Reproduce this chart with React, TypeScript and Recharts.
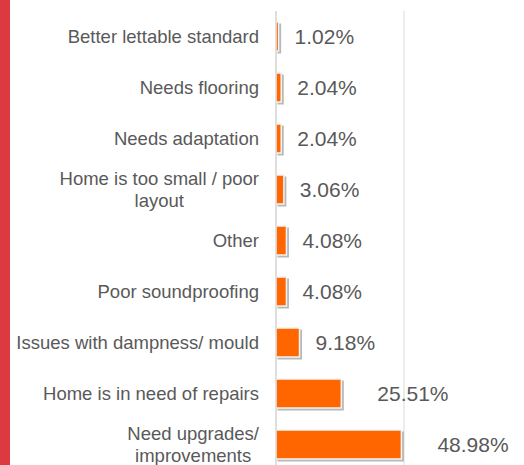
import { BarChart, Bar, XAxis, YAxis, CartesianGrid, LabelList } from "recharts";

// reasons, top to bottom
const reasons = [
  "Better lettable standard",
  "Needs flooring",
  "Needs adaptation",
  "Home is too small / poor layout",
  "Other",
  "Poor soundproofing",
  "Issues with dampness/ mould",
  "Home is in need of repairs",
  "Need upgrades/ improvements",
];

const shares = [1.02, 2.04, 2.04, 3.06, 4.08, 4.08, 9.18, 25.51, 48.98];

const xTicks = [0, 50];

const data = reasons.map((reason, i) => ({ reason, share: shares[i] }));

const FONT = '"Liberation Sans", Arial, sans-serif';
const TICK_SIZE = 18.5;
const LINE_H = 22;
const WRAP_W = 248;

let ctx: CanvasRenderingContext2D | null = null;
function measure(s: string): number {
  if (!ctx) ctx = document.createElement("canvas").getContext("2d");
  ctx!.font = `${TICK_SIZE}px ${FONT}`;
  return ctx!.measureText(s).width;
}

function wrap(label: string): string[] {
  const words = label.split(" ");
  const lines: string[] = [];
  let cur = "";
  for (const w of words) {
    const next = cur ? cur + " " + w : w;
    if (cur && measure(next) > WRAP_W) {
      lines.push(cur);
      cur = w;
    } else {
      cur = next;
    }
  }
  if (cur) lines.push(cur);
  return lines;
}

// right-aligned block, lines centred inside it (like the Excel labels)
const CategoryTick = (props: any) => {
  const { x, y, payload } = props;
  const lines = wrap(payload.value);
  const blockW = Math.max(...lines.map(measure));
  const cx = x - blockW / 2;
  const top = y - ((lines.length - 1) * LINE_H) / 2;
  return (
    <text textAnchor="middle" fontSize={TICK_SIZE} fontFamily={FONT} fill="#595959">
      {lines.map((l, i) => (
        <tspan key={i} x={cx} y={top + i * LINE_H} dominantBaseline="central">
          {l}
        </tspan>
      ))}
    </text>
  );
};

const ShadowBar = (props: any) => {
  const { x, y, width, height } = props;
  return (
    <g>
      <rect x={x + 1.5} y={y + 1.5} width={width + 1} height={height + 1} fill="#b8b8b8" />
      <rect x={x} y={y} width={width} height={height} fill="#ff6600" stroke="#f3f3f3" strokeWidth={1.5} />
    </g>
  );
};

const ValueLabel = (props: any) => {
  const { x, y, width, height, value } = props;
  // the two long bars have their labels pushed further out
  const gap = width > 50 ? 36 : 16;
  return (
    <text
      x={x + width + gap}
      y={y + height / 2}
      dominantBaseline="central"
      fontSize={21}
      fontFamily={FONT}
      fill="#595959"
    >
      {value.toFixed(2)}%
    </text>
  );
};

export default function App() {
  return (
    <div
      style={{
        position: "absolute",
        left: 0,
        top: 0,
        width: 524,
        height: 465,
        overflow: "hidden",
        background: "#fff",
      }}
    >
      <div
        style={{
          position: "absolute",
          left: 0,
          top: 0,
          width: 10,
          height: 465,
          background: "#dc3a40",
        }}
      />
      <BarChart
        width={524}
        height={470}
        data={data}
        layout="vertical"
        margin={{ top: 11, right: 120, bottom: 0, left: 0 }}
        barSize={29}
      >
        <CartesianGrid horizontal={false} stroke="#d9d9d9" />
        <XAxis type="number" domain={[0, 50]} ticks={xTicks} hide />
        <YAxis
          type="category"
          dataKey="reason"
          width={276}
          axisLine={{ stroke: "#d0d0d0" }}
          tickLine={false}
          tickSize={0}
          tickMargin={17}
          tick={<CategoryTick />}
          interval={0}
        />
        <Bar dataKey="share" shape={<ShadowBar />} isAnimationActive={false}>
          <LabelList dataKey="share" content={<ValueLabel />} />
        </Bar>
      </BarChart>
    </div>
  );
}
